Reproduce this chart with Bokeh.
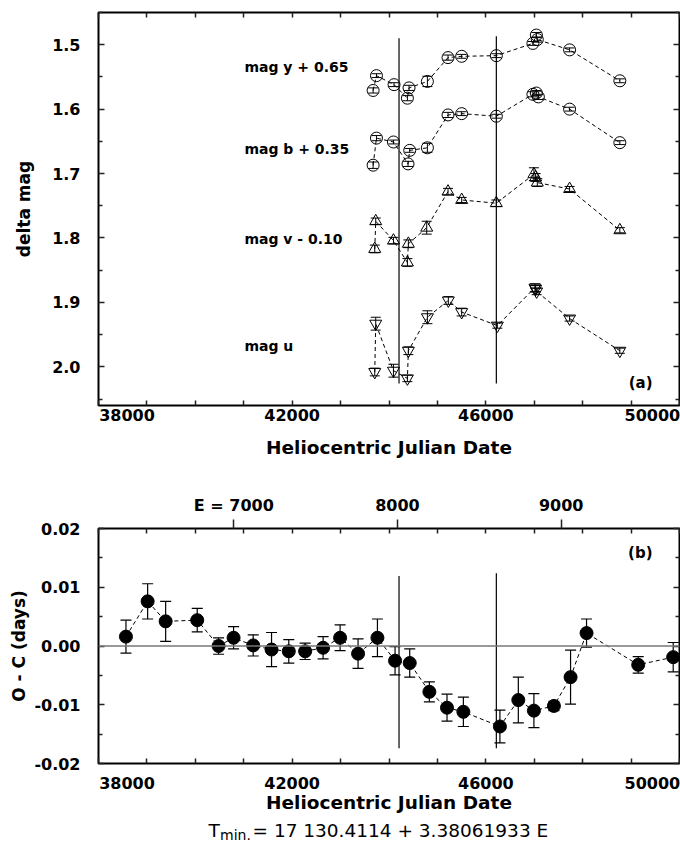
from bokeh.plotting import figure
from bokeh.models import (Range1d, LinearAxis, FixedTicker, CustomJSTickFormatter,
                          NumeralTickFormatter, ColumnDataSource, Whisker, TeeHead,
                          Span, Label)
from bokeh.layouts import column
from bokeh.embed import file_html
from bokeh.resources import INLINE

# ---------------- data ----------------
# ephemeris: T_min = 2417130.4114 + 3.38061933 E   (HJD - 2400000)
T0 = 17130.4114
PER = 3.38061933

# panel (a): differential magnitudes (shifted as labelled)
hjd_y = [43672, 43741, 44104, 44380, 44414, 44793, 45219, 45501, 46217, 46972, 47043, 47063, 47730, 48768]
mag_y = [1.571, 1.548, 1.562, 1.583, 1.567, 1.557, 1.520, 1.518, 1.517, 1.498, 1.485, 1.492, 1.508, 1.556]
err_y = [0.004, 0.003, 0.003, 0.004, 0.004, 0.008, 0.004, 0.003, 0.003, 0.003, 0.004, 0.004, 0.003, 0.003]

hjd_b = [43672, 43741, 44092, 44393, 44428, 44793, 45219, 45501, 46217, 46972, 47043, 47085, 47730, 48768]
mag_b = [1.687, 1.645, 1.651, 1.685, 1.664, 1.660, 1.609, 1.607, 1.611, 1.577, 1.575, 1.581, 1.600, 1.652]
err_b = [0.005, 0.004, 0.003, 0.004, 0.003, 0.007, 0.004, 0.003, 0.003, 0.004, 0.004, 0.004, 0.003, 0.003]

hjd_v = [43706, 43726, 44092, 44380, 44400, 44779, 45219, 45501, 46217, 46993, 47028, 47063, 47730, 48768]
mag_v = [1.817, 1.774, 1.804, 1.838, 1.809, 1.784, 1.728, 1.741, 1.746, 1.701, 1.706, 1.714, 1.724, 1.788]
err_v = [0.006, 0.005, 0.005, 0.006, 0.006, 0.010, 0.005, 0.004, 0.005, 0.010, 0.006, 0.006, 0.004, 0.004]

hjd_u = [43706, 43726, 44092, 44380, 44400, 44793, 45226, 45501, 46238, 47014, 47028, 47049, 47730, 48768]
mag_u = [2.008, 1.933, 2.006, 2.018, 1.975, 1.923, 1.897, 1.915, 1.936, 1.877, 1.879, 1.883, 1.925, 1.975]
err_u = [0.006, 0.010, 0.010, 0.005, 0.006, 0.010, 0.006, 0.006, 0.004, 0.006, 0.005, 0.005, 0.004, 0.004]

series_labels = ["mag y + 0.65", "mag b + 0.35", "mag v - 0.10", "mag u"]
label_hjd = [41013, 41013, 41013, 41013]
label_mag = [1.534, 1.662, 1.801, 1.968]

# panel (b): O - C residuals
hjd_oc = [38567, 39015, 39387, 40039, 40480, 40790, 41195, 41574, 41930, 42268, 42639, 42990, 43361,
          43761, 44125, 44428, 44834, 45198, 45536, 46291, 46671, 46993, 47406, 47750, 48080, 49147, 49870]
oc = [0.0016, 0.0076, 0.0042, 0.0044, 0.0000, 0.0014, 0.0001, -0.0006, -0.0009, -0.0009, -0.0003, 0.0014,
      -0.0013, 0.0014, -0.0025, -0.0029, -0.0078, -0.0105, -0.0112, -0.0137, -0.0092, -0.0110, -0.0102,
      -0.0053, 0.0022, -0.0032, -0.0019]
oc_err = [0.0028, 0.0030, 0.0034, 0.0020, 0.0014, 0.0019, 0.0018, 0.0029, 0.0020, 0.0014, 0.0019, 0.0022,
          0.0025, 0.0032, 0.0024, 0.0024, 0.0017, 0.0023, 0.0025, 0.0028, 0.0039, 0.0029, 0.0008, 0.0046,
          0.0024, 0.0014, 0.0025]

# vertical marker lines
vline_hjd = [44207, 46217]
vline_a_top = [1.490, 1.487]
vline_a_bot = [2.026, 2.026]
vline_b_top = [0.0119, 0.0124]
vline_b_bot = [-0.0174, -0.0174]

# axes
x_start, x_end = 38000, 50000
x_tick_labels = ["38000", "42000", "46000", "50000"]
x_minor = list(range(38000, 50001, 1000))
ya_start, ya_end = 2.06, 1.45
ya_major = [1.5, 1.6, 1.7, 1.8, 1.9, 2.0]
ya_minor = [1.45, 1.55, 1.65, 1.75, 1.85, 1.95, 2.05]
yb_start, yb_end = -0.02, 0.02
yb_major = [-0.02, -0.01, 0.0, 0.01, 0.02]
yb_minor = [-0.015, -0.005, 0.005, 0.015]
e_major = [7000, 8000, 9000]

FONT = "DejaVu Sans"
TICK_COL = "#222222"
W = 680

# x tick labels: the end labels sit inside the frame (as in the original)
x_label_pos = [38590, 42000, 46000, 49440]
x_fmt = CustomJSTickFormatter(
    args=dict(pos=x_label_pos, labels=x_tick_labels),
    code="""
        let best = 0;
        for (let i = 0; i < pos.length; i++) {
            if (Math.abs(pos[i] - tick) < Math.abs(pos[best] - tick)) best = i;
        }
        return labels[best];
    """)


def style_tick_axis(ax, major_in=5, minor_in=5, label_size="16px", standoff=5):
    ax.axis_line_color = None
    ax.major_tick_in = major_in
    ax.major_tick_out = 0
    ax.minor_tick_in = minor_in
    ax.minor_tick_out = 0
    ax.major_tick_line_color = TICK_COL
    ax.minor_tick_line_color = TICK_COL
    ax.major_tick_line_width = 1.5
    ax.minor_tick_line_width = 1.5
    ax.major_label_text_font = FONT
    ax.major_label_text_font_size = label_size
    ax.major_label_text_font_style = "bold"
    ax.major_label_text_color = "black"
    ax.major_label_standoff = standoff


def style_title(ax, text, size, standoff):
    ax.axis_label = text
    ax.axis_label_text_font = FONT
    ax.axis_label_text_font_size = size
    ax.axis_label_text_font_style = "bold"
    ax.axis_label_text_color = "black"
    ax.axis_label_standoff = standoff


def mirror_axis(ticker, major_in, minor_in, **kw):
    ax = LinearAxis(ticker=ticker, formatter=CustomJSTickFormatter(code="return '';"), **kw)
    style_tick_axis(ax, major_in, minor_in, label_size="1px", standoff=0)
    return ax


def base_fig(height, x_range, y_range, border_top, border_bottom):
    p = figure(width=W, height=height, x_range=x_range, y_range=y_range,
               output_backend="svg", toolbar_location=None,
               min_border_left=98, min_border_right=1,
               min_border_top=border_top, min_border_bottom=border_bottom)
    p.grid.visible = False
    p.outline_line_color = "black"
    p.outline_line_width = 2
    p.background_fill_color = "white"
    p.border_fill_color = "white"
    return p


x_label_ticker = FixedTicker(ticks=x_label_pos, minor_ticks=x_minor)
x_mirror_ticker = FixedTicker(ticks=[], minor_ticks=x_minor)


def bottom_x_axis(p, standoff, title_standoff):
    ax = p.xaxis[0]
    ax.ticker = x_label_ticker
    ax.formatter = x_fmt
    style_tick_axis(ax, 0, 5, standoff=standoff)
    style_title(ax, "Heliocentric Julian Date", "18.5px", title_standoff)


def bold_label(x, y, text, size="15px", **kw):
    return Label(x=x, y=y, text=text, text_font=FONT, text_font_size=size,
                 text_font_style="bold", text_color="black", **kw)


shared_x = Range1d(x_start, x_end)

# ---------------- panel (a) ----------------
p1 = base_fig(466, shared_x, Range1d(ya_start, ya_end), 12, 61)
bottom_x_axis(p1, 3, 13)
ya_ticker = FixedTicker(ticks=ya_major, minor_ticks=ya_minor)
ly = p1.yaxis[0]
ly.ticker = ya_ticker
ly.formatter = NumeralTickFormatter(format="0.0")
style_tick_axis(ly, 6, 4, standoff=18)
style_title(ly, "delta mag", "17px", 15)
p1.add_layout(mirror_axis(ya_ticker, 6, 4), "right")
p1.add_layout(mirror_axis(x_mirror_ticker, 5, 5), "above")

for hx, hm, he, marker in [(hjd_y, mag_y, err_y, "circle"), (hjd_b, mag_b, err_b, "circle"),
                           (hjd_v, mag_v, err_v, "triangle"), (hjd_u, mag_u, err_u, "inverted_triangle")]:
    src = ColumnDataSource(dict(x=hx, y=hm, lower=[m - e for m, e in zip(hm, he)],
                                upper=[m + e for m, e in zip(hm, he)]))
    p1.line("x", "y", source=src, line_color="black", line_width=1, line_dash="4 3")
    p1.add_layout(Whisker(source=src, base="x", upper="upper", lower="lower",
                          line_color="black", line_width=1,
                          upper_head=TeeHead(size=10, line_color="black", line_width=1),
                          lower_head=TeeHead(size=10, line_color="black", line_width=1)))
    p1.scatter("x", "y", source=src, marker=marker, size=12, fill_color=None,
               line_color="black", line_width=1)

p1.segment(x0=vline_hjd, y0=vline_a_top, x1=vline_hjd, y1=vline_a_bot,
           line_color="black", line_width=1.2)

for t, lx, lyv in zip(series_labels, label_hjd, label_mag):
    p1.add_layout(bold_label(lx, lyv, t, size="14px", text_align="left", text_baseline="middle"))

p1.add_layout(bold_label(x_end, ya_start, "(a)", x_offset=-27, y_offset=23,
                         text_align="right", text_baseline="middle"))

# ---------------- panel (b) ----------------
p2 = base_fig(351, shared_x, Range1d(yb_start, yb_end), 62, 54)
p2.extra_x_ranges = {"E": Range1d((x_start - T0) / PER, (x_end - T0) / PER)}
bottom_x_axis(p2, 13, 0)
yb_ticker = FixedTicker(ticks=yb_major, minor_ticks=yb_minor)
lyb = p2.yaxis[0]
lyb.ticker = yb_ticker
lyb.formatter = NumeralTickFormatter(format="0.00")
style_tick_axis(lyb, 6, 4, standoff=18)
style_title(lyb, "O - C (days)", "17px", 2)
p2.add_layout(mirror_axis(yb_ticker, 6, 4), "right")

e_ticker = FixedTicker(ticks=e_major, minor_ticks=[(h - T0) / PER for h in x_minor])
e_axis = LinearAxis(x_range_name="E", ticker=e_ticker,
                    formatter=CustomJSTickFormatter(code="return tick == 7000 ? 'E = 7000' : tick.toFixed(0);"))
style_tick_axis(e_axis, 0, 5, standoff=5)
e_axis.major_tick_out = 9
p2.add_layout(e_axis, "above")

p2.add_layout(Span(location=0, dimension="width", line_color="#777777", line_width=1.5))

src_oc = ColumnDataSource(dict(x=hjd_oc, y=oc, lower=[v - e for v, e in zip(oc, oc_err)],
                               upper=[v + e for v, e in zip(oc, oc_err)]))
p2.line("x", "y", source=src_oc, line_color="black", line_width=1, line_dash="4 3")
p2.add_layout(Whisker(source=src_oc, base="x", upper="upper", lower="lower",
                      line_color="black", line_width=1.2,
                      upper_head=TeeHead(size=11, line_color="black", line_width=1.2),
                      lower_head=TeeHead(size=11, line_color="black", line_width=1.2)))
p2.scatter("x", "y", source=src_oc, marker="circle", size=13, fill_color="black", line_color="black")

p2.segment(x0=vline_hjd, y0=vline_b_top, x1=vline_hjd, y1=vline_b_bot,
           line_color="black", line_width=1.2)

p2.add_layout(bold_label(x_end, yb_end, "(b)", x_offset=-27, y_offset=-24,
                         text_align="right", text_baseline="middle"))

# ---------------- ephemeris line ----------------
p3 = figure(width=W, height=25, x_range=shared_x, y_range=Range1d(0, 1),
            x_axis_type=None, y_axis_type=None, output_backend="svg", toolbar_location=None,
            min_border_left=98, min_border_right=1, min_border_top=0, min_border_bottom=0)
p3.outline_line_color = None
p3.grid.visible = False
p3.border_fill_color = "white"
for txt, xo, yo, sz in [("T", 110, 0, "18.5px"), ("min.", 121.5, -5, "14px"),
                        ("= 17 130.4114 + 3.38061933 E", 154, 0, "18.5px")]:
    p3.add_layout(Label(x=x_start, y=0.5, x_offset=xo, y_offset=yo, text=txt,
                        text_align="left", text_baseline="middle", text_font=FONT,
                        text_font_size=sz, text_color="black"))

layout = column(p1, p2, p3)
open("out.html", "w").write(file_html(layout, INLINE, title="O-C diagram"))
